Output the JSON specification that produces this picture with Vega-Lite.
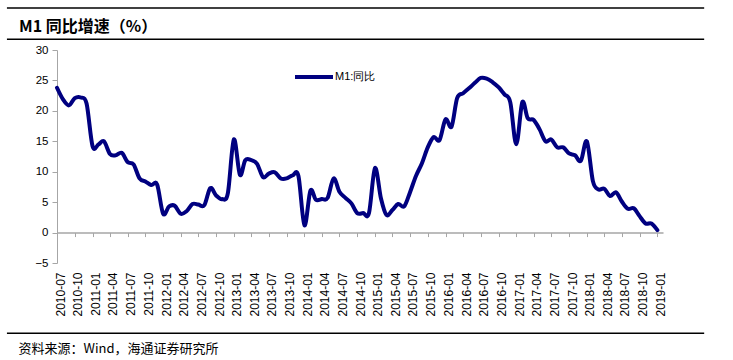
{
  "$schema": "https://vega.github.io/schema/vega-lite/v6.json",
  "width": 606,
  "height": 213,
  "autosize": {"type": "none"},
  "padding": {"left": 57, "top": 50, "right": 70, "bottom": 97},
  "background": "white",
  "title": {
    "text": "M1 同比增速（%）",
    "anchor": "start",
    "frame": "group",
    "dx": -38,
    "dy": 41,
    "font": "Noto Sans CJK SC",
    "fontSize": 16,
    "fontWeight": "bold",
    "color": "black",
    "baseline": "alphabetic",
    "offset": 0
  },
  "data": {
    "values": [
      {"month": "2010-07-01", "value": 23.8},
      {"month": "2010-08-01", "value": 21.9},
      {"month": "2010-09-01", "value": 20.9},
      {"month": "2010-10-01", "value": 22.1},
      {"month": "2010-11-01", "value": 22.2},
      {"month": "2010-12-01", "value": 21.2},
      {"month": "2011-01-01", "value": 14.2},
      {"month": "2011-02-01", "value": 14.5},
      {"month": "2011-03-01", "value": 15.0},
      {"month": "2011-04-01", "value": 12.9},
      {"month": "2011-05-01", "value": 12.7},
      {"month": "2011-06-01", "value": 13.1},
      {"month": "2011-07-01", "value": 11.6},
      {"month": "2011-08-01", "value": 11.2},
      {"month": "2011-09-01", "value": 8.9},
      {"month": "2011-10-01", "value": 8.4},
      {"month": "2011-11-01", "value": 7.8},
      {"month": "2011-12-01", "value": 7.9},
      {"month": "2012-01-01", "value": 3.1},
      {"month": "2012-02-01", "value": 4.3},
      {"month": "2012-03-01", "value": 4.4},
      {"month": "2012-04-01", "value": 3.1},
      {"month": "2012-05-01", "value": 3.5},
      {"month": "2012-06-01", "value": 4.7},
      {"month": "2012-07-01", "value": 4.6},
      {"month": "2012-08-01", "value": 4.5},
      {"month": "2012-09-01", "value": 7.3},
      {"month": "2012-10-01", "value": 6.1},
      {"month": "2012-11-01", "value": 5.5},
      {"month": "2012-12-01", "value": 6.5},
      {"month": "2013-01-01", "value": 15.3},
      {"month": "2013-02-01", "value": 9.5},
      {"month": "2013-03-01", "value": 11.9},
      {"month": "2013-04-01", "value": 11.9},
      {"month": "2013-05-01", "value": 11.3},
      {"month": "2013-06-01", "value": 9.1},
      {"month": "2013-07-01", "value": 9.7},
      {"month": "2013-08-01", "value": 9.9},
      {"month": "2013-09-01", "value": 8.9},
      {"month": "2013-10-01", "value": 8.9},
      {"month": "2013-11-01", "value": 9.4},
      {"month": "2013-12-01", "value": 9.3},
      {"month": "2014-01-01", "value": 1.2},
      {"month": "2014-02-01", "value": 6.9},
      {"month": "2014-03-01", "value": 5.4},
      {"month": "2014-04-01", "value": 5.5},
      {"month": "2014-05-01", "value": 5.7},
      {"month": "2014-06-01", "value": 8.9},
      {"month": "2014-07-01", "value": 6.7},
      {"month": "2014-08-01", "value": 5.7},
      {"month": "2014-09-01", "value": 4.8},
      {"month": "2014-10-01", "value": 3.2},
      {"month": "2014-11-01", "value": 3.2},
      {"month": "2014-12-01", "value": 3.2},
      {"month": "2015-01-01", "value": 10.6},
      {"month": "2015-02-01", "value": 5.6},
      {"month": "2015-03-01", "value": 2.9},
      {"month": "2015-04-01", "value": 3.7},
      {"month": "2015-05-01", "value": 4.7},
      {"month": "2015-06-01", "value": 4.3},
      {"month": "2015-07-01", "value": 6.6},
      {"month": "2015-08-01", "value": 9.3},
      {"month": "2015-09-01", "value": 11.4},
      {"month": "2015-10-01", "value": 14.0},
      {"month": "2015-11-01", "value": 15.7},
      {"month": "2015-12-01", "value": 15.2},
      {"month": "2016-01-01", "value": 18.6},
      {"month": "2016-02-01", "value": 17.4},
      {"month": "2016-03-01", "value": 22.1},
      {"month": "2016-04-01", "value": 22.9},
      {"month": "2016-05-01", "value": 23.7},
      {"month": "2016-06-01", "value": 24.6},
      {"month": "2016-07-01", "value": 25.4},
      {"month": "2016-08-01", "value": 25.3},
      {"month": "2016-09-01", "value": 24.7},
      {"month": "2016-10-01", "value": 23.9},
      {"month": "2016-11-01", "value": 22.7},
      {"month": "2016-12-01", "value": 21.4},
      {"month": "2017-01-01", "value": 14.5},
      {"month": "2017-02-01", "value": 21.4},
      {"month": "2017-03-01", "value": 18.8},
      {"month": "2017-04-01", "value": 18.5},
      {"month": "2017-05-01", "value": 17.0},
      {"month": "2017-06-01", "value": 15.0},
      {"month": "2017-07-01", "value": 15.3},
      {"month": "2017-08-01", "value": 14.0},
      {"month": "2017-09-01", "value": 14.0},
      {"month": "2017-10-01", "value": 13.0},
      {"month": "2017-11-01", "value": 12.7},
      {"month": "2017-12-01", "value": 11.8},
      {"month": "2018-01-01", "value": 15.0},
      {"month": "2018-02-01", "value": 8.5},
      {"month": "2018-03-01", "value": 7.1},
      {"month": "2018-04-01", "value": 7.2},
      {"month": "2018-05-01", "value": 6.0},
      {"month": "2018-06-01", "value": 6.6},
      {"month": "2018-07-01", "value": 5.1},
      {"month": "2018-08-01", "value": 3.9},
      {"month": "2018-09-01", "value": 4.0},
      {"month": "2018-10-01", "value": 2.7},
      {"month": "2018-11-01", "value": 1.5},
      {"month": "2018-12-01", "value": 1.5},
      {"month": "2019-01-01", "value": 0.4}
    ]
  },
  "layer": [
    {
      "mark": {"type": "line", "interpolate": "cardinal", "strokeWidth": 4, "strokeCap": "round", "strokeJoin": "round"},
      "encoding": {
        "x": {
          "field": "month",
          "type": "temporal",
          "scale": {
            "type": "utc",
            "nice": false,
            "domain": [
              {"year": 2010, "month": 7, "date": 1, "utc": true},
              {"year": 2019, "month": 1, "date": 30, "utc": true}
            ]
          },
          "axis": {
            "orient": "bottom",
            "format": "%Y-%m",
            "tickCount": {"interval": "month", "step": 3},
            "labelAngle": 270,
            "labelAlign": "right",
            "labelBaseline": "middle",
            "labelPadding": 9,
            "labelOffset": 3,
            "labelFontSize": 12,
            "labelFont": "Liberation Sans",
            "labelColor": "black",
            "labelOverlap": false,
            "labelFlush": false,
            "labelBound": false,
            "ticks": false,
            "domain": false,
            "grid": false,
            "title": "资料来源：Wind，海通证券研究所",
            "titleX": -39,
            "titleY": 89,
            "titleAlign": "left",
            "titleAnchor": null,
            "titleBaseline": "alphabetic",
            "titleFont": "Noto Sans CJK SC",
            "titleFontSize": 13,
            "titleFontWeight": "normal",
            "titleColor": "black"
          }
        },
        "y": {
          "field": "value",
          "type": "quantitative",
          "scale": {"domain": [-5, 30], "nice": false, "zero": false},
          "axis": {
            "orient": "left",
            "values": [-5, 0, 5, 10, 15, 20, 25, 30],
            "grid": false,
            "title": null,
            "domainColor": "#a6a6a6",
            "domainWidth": 1,
            "tickColor": "#a6a6a6",
            "tickSize": 5,
            "labelPadding": 4,
            "labelFontSize": 11.5,
            "labelFont": "Liberation Sans",
            "labelColor": "black"
          }
        },
        "color": {
          "datum": "M1:同比",
          "type": "nominal",
          "scale": {"range": ["#000080"]},
          "legend": {
            "orient": "none",
            "legendX": 236,
            "legendY": 6,
            "title": null,
            "padding": 0,
            "symbolType": "stroke",
            "symbolSize": 1444,
            "symbolStrokeWidth": 4,
            "labelFontSize": 11,
            "labelFont": "Liberation Sans",
            "labelColor": "black",
            "labelOffset": 0
          }
        }
      }
    },
    {
      "data": {"values": [{}]},
      "mark": {"type": "rule", "color": "black", "strokeWidth": 1.5},
      "encoding": {
        "x": {
          "datum": {"year": 2009, "month": 10, "date": 15, "utc": true},
          "type": "temporal",
          "axis": {
            "orient": "bottom",
            "offset": -30.43,
            "labels": false,
            "grid": false,
            "title": null,
            "tickCount": {"interval": "month", "step": 3},
            "domain": true,
            "domainColor": "#a6a6a6",
            "domainWidth": 1.5,
            "ticks": true,
            "tickColor": "#a6a6a6",
            "tickWidth": 1,
            "tickSize": 4
          }
        },
        "x2": {"datum": {"year": 2019, "month": 8, "date": 31, "utc": true}},
        "y": {"datum": 36.9, "type": "quantitative", "axis": null}
      }
    },
    {
      "data": {"values": [{}]},
      "mark": {"type": "rule", "color": "black", "strokeWidth": 1.5},
      "encoding": {
        "x": {"datum": {"year": 2009, "month": 10, "date": 15, "utc": true}, "type": "temporal", "axis": null},
        "x2": {"datum": {"year": 2019, "month": 8, "date": 31, "utc": true}},
        "y": {"datum": 31.76, "type": "quantitative", "axis": null}
      }
    },
    {
      "data": {"values": [{}]},
      "mark": {"type": "rule", "color": "black", "strokeWidth": 1.5},
      "encoding": {
        "x": {"datum": {"year": 2009, "month": 10, "date": 15, "utc": true}, "type": "temporal", "axis": null},
        "x2": {"datum": {"year": 2019, "month": 8, "date": 31, "utc": true}},
        "y": {"datum": -16.55, "type": "quantitative", "axis": null}
      }
    }
  ],
  "resolve": {"axis": {"x": "independent", "y": "independent"}},
  "config": {
    "view": {"stroke": null},
    "axis": {"labelFont": "Liberation Sans"}
  }
}
